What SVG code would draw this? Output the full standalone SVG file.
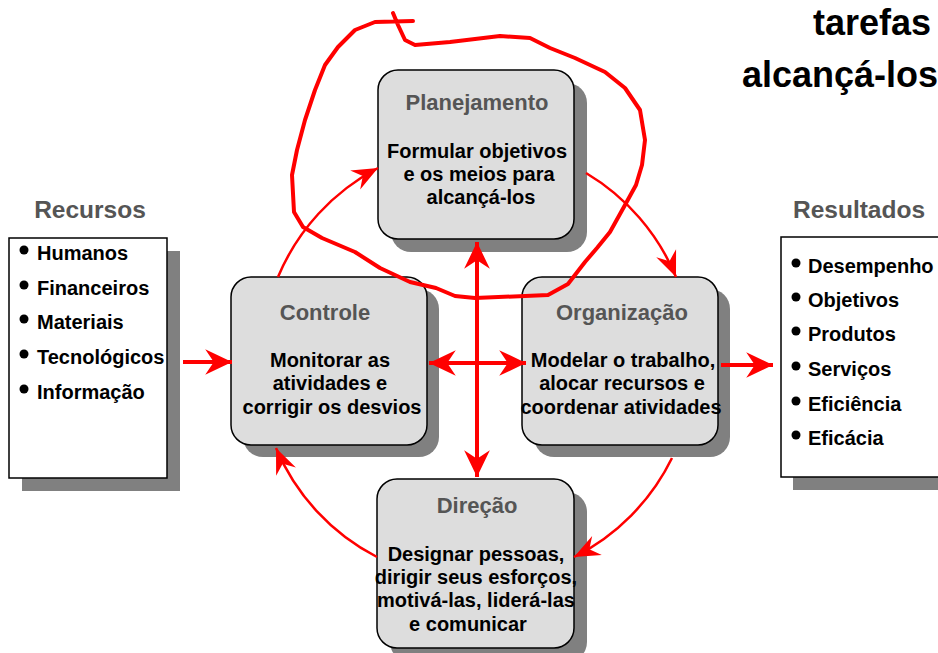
<svg xmlns="http://www.w3.org/2000/svg" width="938" height="653" viewBox="0 0 938 653">
<style>
  text { font-family: "Liberation Sans", Arial, sans-serif; font-weight: bold; }
  .title { font-size: 22px; fill: #555555; text-anchor: middle; }
  .head { font-size: 24.5px; fill: #555555; text-anchor: middle; }
  .body { font-size: 20px; fill: #000; text-anchor: middle; }
  .item { font-size: 20px; fill: #000; }
  .big { font-size: 36px; fill: #000; }
  .card { fill: #dddddd; stroke: #000; stroke-width: 1.5; }
  .list { fill: #ffffff; stroke: #000; stroke-width: 1.5; }
  .shadow { fill: #808080; }
  .thick { fill: none; stroke: #ff0000; stroke-width: 4; }
  .thin { fill: none; stroke: #ff0000; stroke-width: 2.5; }
  .bullet { fill: #000; }
</style>
<defs>
  <marker id="headThick" markerUnits="userSpaceOnUse" markerWidth="30" markerHeight="30" viewBox="-26 -13 28 26" refX="0" refY="0" orient="auto-start-reverse">
    <path d="M0,0 L-25,-12 L-17,0 L-25,12 Z" fill="#ff0000"/>
  </marker>
  <marker id="headThin" markerUnits="userSpaceOnUse" markerWidth="30" markerHeight="30" viewBox="-26 -12 28 24" refX="0" refY="0" orient="auto">
    <path d="M0,0 L-24,-10 L-16,0 L-24,10 Z" fill="#ff0000"/>
  </marker>
</defs>

<g id="header-text">
  <text class="big" x="931" y="35" text-anchor="end">tarefas</text>
  <text class="big" x="742" y="87">alcançá-los</text>
</g>

<g id="recursos">
  <text class="head" x="90" y="218">Recursos</text>
  <rect class="shadow" x="22" y="251" width="158" height="240"/>
  <rect class="list" x="9" y="238" width="158" height="240"/>
  <circle class="bullet" cx="24" cy="250" r="4.5"/>
  <text class="item" x="37" y="260">Humanos</text>
  <circle class="bullet" cx="24" cy="285" r="4.5"/>
  <text class="item" x="37" y="295">Financeiros</text>
  <circle class="bullet" cx="24" cy="319" r="4.5"/>
  <text class="item" x="37" y="329">Materiais</text>
  <circle class="bullet" cx="24" cy="354" r="4.5"/>
  <text class="item" x="37" y="364">Tecnológicos</text>
  <circle class="bullet" cx="24" cy="389" r="4.5"/>
  <text class="item" x="37" y="399">Informação</text>
</g>

<g id="resultados">
  <text class="head" x="859" y="218">Resultados</text>
  <rect class="shadow" x="793" y="250" width="160" height="240"/>
  <rect class="list" x="781" y="237" width="160" height="240"/>
  <circle class="bullet" cx="796" cy="263" r="4.5"/>
  <text class="item" x="808" y="273">Desempenho</text>
  <circle class="bullet" cx="796" cy="297" r="4.5"/>
  <text class="item" x="808" y="307">Objetivos</text>
  <circle class="bullet" cx="796" cy="331" r="4.5"/>
  <text class="item" x="808" y="341">Produtos</text>
  <circle class="bullet" cx="796" cy="366" r="4.5"/>
  <text class="item" x="808" y="376">Serviços</text>
  <circle class="bullet" cx="796" cy="401" r="4.5"/>
  <text class="item" x="808" y="411">Eficiência</text>
  <circle class="bullet" cx="796" cy="435" r="4.5"/>
  <text class="item" x="808" y="445">Eficácia</text>
</g>

<g id="planejamento">
  <rect class="shadow" x="391" y="83" width="196" height="169" rx="20"/>
  <rect class="card" x="378" y="70" width="196" height="169" rx="20"/>
  <text class="title" x="477" y="110">Planejamento</text>
  <text class="body" x="477" y="158">Formular objetivos</text>
  <text class="body" x="479" y="181">e os meios para</text>
  <text class="body" x="481" y="204">alcançá-los</text>
</g>

<g id="controle">
  <rect class="shadow" x="243" y="289" width="196" height="168" rx="20"/>
  <rect class="card" x="231" y="277" width="196" height="168" rx="20"/>
  <text class="title" x="325" y="320">Controle</text>
  <text class="body" x="330" y="367">Monitorar as</text>
  <text class="body" x="330" y="390">atividades e</text>
  <text class="body" x="332" y="414">corrigir os desvios</text>
</g>

<g id="organizacao">
  <rect class="shadow" x="534" y="289" width="196" height="168" rx="20"/>
  <rect class="card" x="522" y="277" width="196" height="168" rx="20"/>
  <text class="title" x="622" y="320">Organização</text>
  <text class="body" x="623" y="367">Modelar o trabalho,</text>
  <text class="body" x="622" y="390">alocar recursos e</text>
  <text class="body" x="621" y="414">coordenar atividades</text>
</g>

<g id="direcao">
  <rect class="shadow" x="390" y="492" width="197" height="170" rx="20"/>
  <rect class="card" x="377" y="479" width="197" height="169" rx="20"/>
  <text class="title" x="477" y="513">Direção</text>
  <text class="body" x="476" y="561">Designar pessoas,</text>
  <text class="body" x="476" y="584">dirigir seus esforços,</text>
  <text class="body" x="476" y="607">motivá-las, liderá-las</text>
  <text class="body" x="468" y="631">e comunicar</text>
</g>

<g id="connectors">
  <line class="thick" x1="183" y1="362" x2="232" y2="362" marker-end="url(#headThick)"/>
  <line class="thick" x1="721" y1="365" x2="773" y2="365" marker-end="url(#headThick)"/>
  <line class="thick" x1="477" y1="242" x2="477" y2="477" marker-start="url(#headThick)" marker-end="url(#headThick)"/>
  <line class="thick" x1="429" y1="363" x2="526" y2="363" marker-start="url(#headThick)" marker-end="url(#headThick)"/>
  <path class="thin" d="M278,277 A218,218 0 0 1 378,168" marker-end="url(#headThin)"/>
  <path class="thin" d="M586,173 A218,218 0 0 1 676,277" marker-end="url(#headThin)"/>
  <path class="thin" d="M672,458 A218,218 0 0 1 574,557" marker-end="url(#headThin)"/>
  <path class="thin" d="M377,557 A218,218 0 0 1 276,448" marker-end="url(#headThin)"/>
</g>

<g id="freehand-loop">
  <path fill="none" stroke="#ff0000" stroke-width="4" stroke-linejoin="round" stroke-linecap="round"
    d="M393,13 L398,25 L405,40 L415,45 L450,42 L500,36 L530,38 L550,48 L575,58 L605,72 L625,88 L640,110 L645,140 L642,165 L636,185 L625,205 L610,232 L597,248 L585,262 L568,284 L548,295 L475,298 L455,296 L436,288 L410,282 L380,268 L355,252 L322,238 L303,227 L294,212 L292,175 L297,150 L305,120 L315,90 L325,65 L338,47 L355,30 L375,22 L413,21"/>
</g>
</svg>
